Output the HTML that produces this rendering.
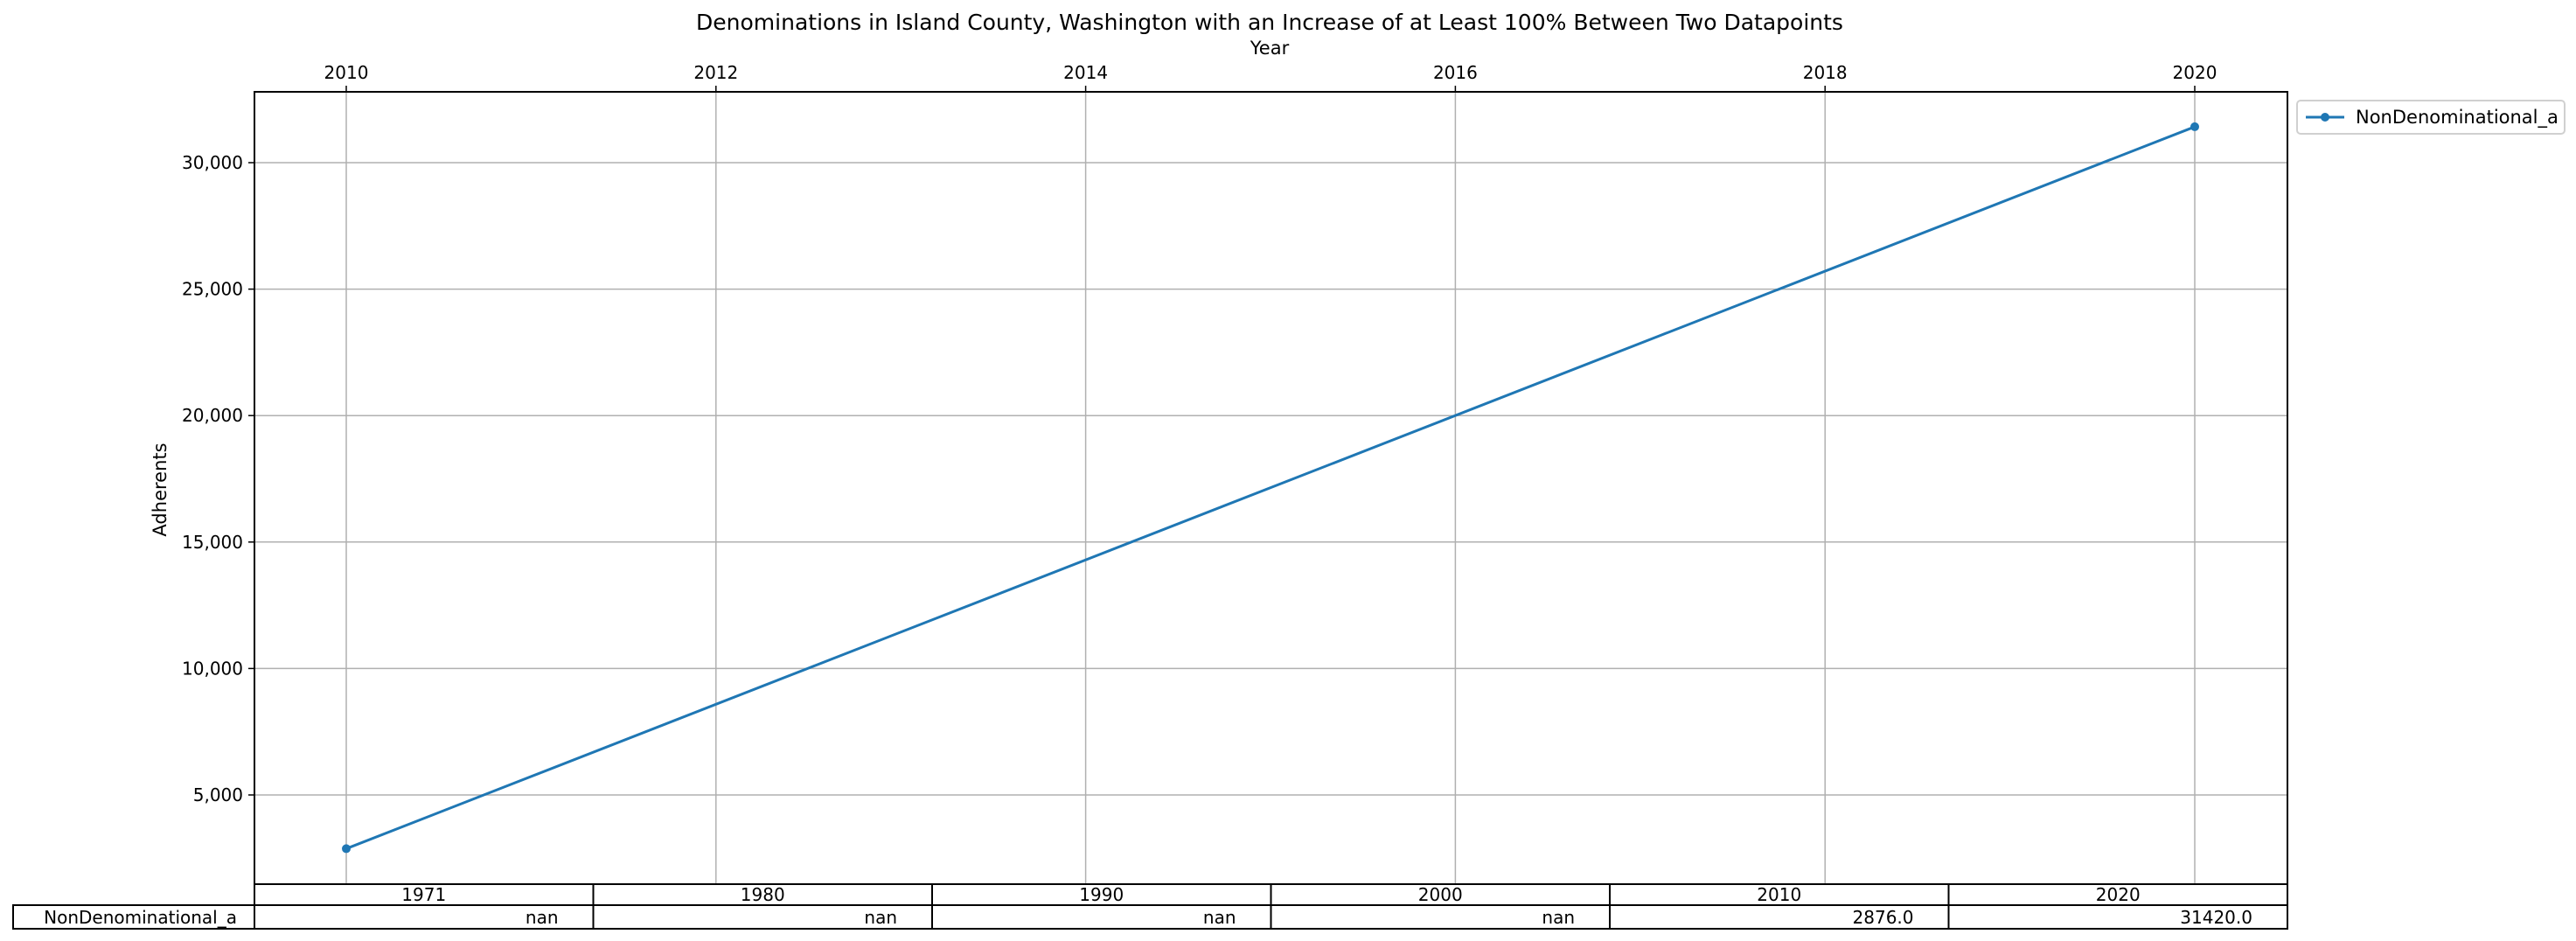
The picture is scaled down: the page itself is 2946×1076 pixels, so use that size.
<!DOCTYPE html>
<html><head><meta charset="utf-8"><style>
body{margin:0;background:#fff}
svg{display:block;font-family:"DejaVu Sans","Liberation Sans",sans-serif}
</style></head><body>
<svg width="2946" height="1076" viewBox="0 0 2946 1076">
<text x="1452" y="34" font-size="25" text-anchor="middle">Denominations in Island County, Washington with an Increase of at Least 100% Between Two Datapoints</text>
<text x="1452" y="62" font-size="21" text-anchor="middle">Year</text>
<text transform="translate(190,560) rotate(-90)" font-size="21" text-anchor="middle">Adherents</text>
<g id="grid"></g>
<g id="marks"></g>
<rect x="291" y="105" width="2325" height="906" fill="none" stroke="#000" stroke-width="2"/>
<g id="table"></g>
<g>
<rect x="2627" y="115" width="306" height="38" rx="4" fill="#fff" stroke="#d0d0d0" stroke-width="2"/>
<line x1="2637" y1="134" x2="2681" y2="134" stroke="#1f77b4" stroke-width="3"/>
<circle cx="2659" cy="134" r="5" fill="#1f77b4"/>
<text x="2694" y="141" font-size="21">NonDenominational_a</text>
</g>
</svg>
<script>
const years=[2010,2020];
const values=[2876,31420];
const xTicks=[2010,2012,2014,2016,2018,2020];
const yTicks=[5000,10000,15000,20000,25000,30000];
const tableCols=["1971","1980","1990","2000","2010","2020"];
const tableVals=["nan","nan","nan","nan","2876.0","31420.0"];
const seriesName="NonDenominational_a";
const NS="http://www.w3.org/2000/svg";
const L=291,R=2616,T=105,B=1011;
const x=v=>396+(v-2010)*211.4;
const y=v=>909-(v-5000)*144.6/5000;
function mk(tag,attrs,parent,text){const e=document.createElementNS(NS,tag);for(const k in attrs)e.setAttribute(k,attrs[k]);if(text!==undefined)e.textContent=text;parent.appendChild(e);return e;}
const grid=document.getElementById('grid'),marks=document.getElementById('marks'),tbl=document.getElementById('table');
xTicks.forEach(t=>{
 const g=mk('line',{x1:x(t),x2:x(t),y1:T,y2:B,stroke:'#b0b0b0','stroke-width':1.5},grid);
 
 
 const tk=mk('line',{x1:x(t),x2:x(t),y1:T-7,y2:T,stroke:'#000','stroke-width':1.5},grid);
 
 
 const lb=mk('text',{x:x(t),y:T-15,'font-size':20,'text-anchor':'middle'},grid,String(t));
 
 
});
yTicks.forEach(t=>{
 const g=mk('line',{x1:L,x2:R,y1:y(t),y2:y(t),stroke:'#b0b0b0','stroke-width':1.5},grid);
 
 
 const tk=mk('line',{x1:L-7,x2:L,y1:y(t),y2:y(t),stroke:'#000','stroke-width':1.5},grid);
 
 
 const lb=mk('text',{x:L-13,y:y(t)+7,'font-size':20,'text-anchor':'end'},grid,t.toLocaleString('en-US'));
 
 
});
const pts=years.map((yr,i)=>x(yr)+','+y(values[i])).join(' ');
const pl=mk('polyline',{points:pts,fill:'none',stroke:'#1f77b4','stroke-width':3},marks);


years.forEach((yr,i)=>{
 const c=mk('circle',{cx:x(yr),cy:y(values[i]),r:5,fill:'#1f77b4'},marks);
 
 
});
const cw=(R-L)/tableCols.length,r1=1011,r2=1035,r3=1062;
tableCols.forEach((c,i)=>{
 const x0=L+i*cw;
 const h=mk('rect',{x:x0,y:r1,width:cw,height:r2-r1,fill:'#fff',stroke:'#000','stroke-width':2},tbl);
 
 
 const ht=mk('text',{x:x0+cw/2,y:r2-5,'font-size':20,'text-anchor':'middle'},tbl,c);
 
 
 const d=mk('rect',{x:x0,y:r2,width:cw,height:r3-r2,fill:'#fff',stroke:'#000','stroke-width':2},tbl);
 
 
 const dt=mk('text',{x:x0+cw-40,y:r3-6,'font-size':20,'text-anchor':'end'},tbl,tableVals[i]);
 
 
});
const rl=mk('rect',{x:15,y:r2,width:L-15,height:r3-r2,fill:'#fff',stroke:'#000','stroke-width':2},tbl);


const rt=mk('text',{x:L-20,y:r3-6,'font-size':20,'text-anchor':'end'},tbl,seriesName);


</script>
</body></html>
